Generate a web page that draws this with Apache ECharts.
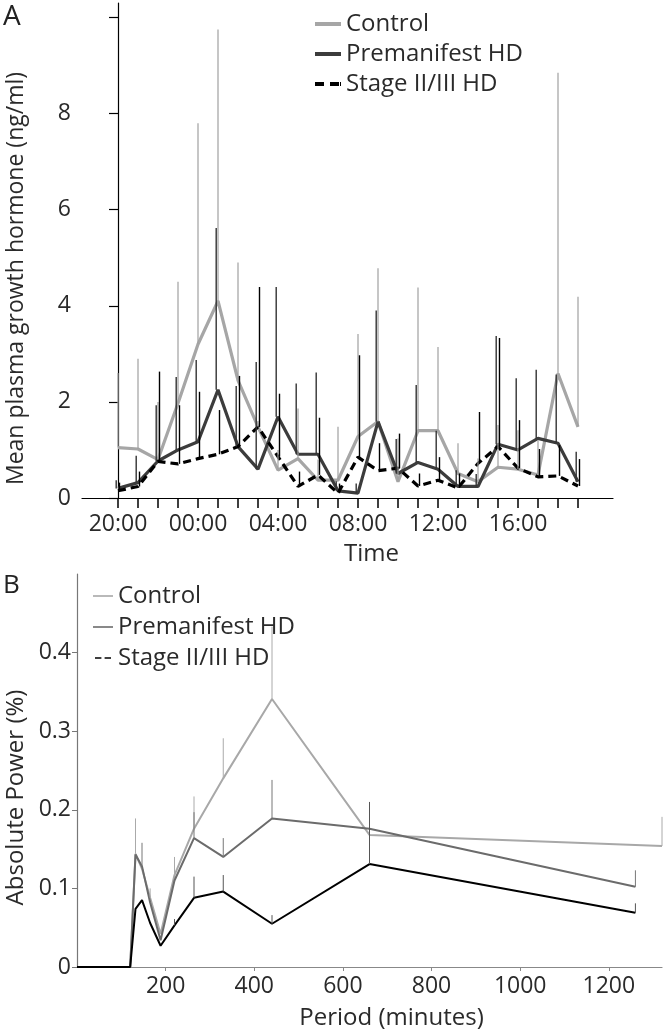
<!DOCTYPE html>
<html><head><meta charset="utf-8">
<script src="https://cdn.jsdelivr.net/npm/echarts@6/dist/echarts.min.js"></script>
<style>html,body{margin:0;padding:0;background:#fff}#c{width:665px;height:1030px}</style>
</head><body><div id="c"></div>
<script>
// ---------- Panel A data (hourly, 20:00 .. 19:00) ----------
const hourLabels = ['20:00','21:00','22:00','23:00','00:00','01:00','02:00','03:00','04:00','05:00','06:00','07:00',
                    '08:00','09:00','10:00','11:00','12:00','13:00','14:00','15:00','16:00','17:00','18:00','19:00'];
const labeledHours = ['20:00','00:00','04:00','08:00','12:00','16:00'];
const controlA    = [1.05,1.02,0.80,1.97,3.20,4.10,2.45,1.48,0.58,0.82,0.37,0.37,1.28,1.59,0.34,1.40,1.40,0.51,0.34,0.64,0.60,0.48,2.59,1.48];
const premanA     = [0.20,0.32,0.77,1.00,1.17,2.25,1.07,0.60,1.69,0.91,0.91,0.15,0.10,1.59,0.51,0.74,0.60,0.24,0.24,1.12,1.00,1.24,1.14,0.34];
const stageA      = [0.15,0.24,0.76,0.71,0.82,0.91,1.07,1.48,0.86,0.24,0.48,0.10,0.85,0.57,0.62,0.25,0.37,0.21,0.72,1.07,0.62,0.44,0.46,0.25];
// upper ends of the error bars (mean + SD)
const controlAUpper = [2.6,2.9,2.0,4.5,7.8,9.75,4.9,1.6,1.0,1.86,0.8,1.48,3.41,4.78,1.24,4.38,3.14,1.14,0.82,1.52,1.41,1.2,8.85,4.19];
const premanAUpper  = [0.37,0.88,1.93,2.52,2.87,5.62,2.33,2.83,4.39,2.38,2.61,0.35,0.3,3.9,1.23,2.35,1.4,0.58,0.5,3.37,2.49,2.67,2.57,0.96];
const stageAUpper   = [0.32,0.55,2.63,1.93,2.21,1.83,2.54,4.39,2.17,0.55,1.67,0.3,2.97,1.14,1.34,0.51,0.85,0.51,1.79,3.33,1.62,1.02,1.1,0.81];
const yTicksA = [0,2,4,6,8,10];
const yLabelsA = [0,2,4,6,8];

// ---------- Panel B data ----------
const periodsControl = [0,120,132,146.7,165,188.6,220,264,330,440,660,1320];
const powerControl   = [0,0,0.144,0.125,0.088,0.042,0.117,0.176,0.24,0.341,0.168,0.154];
const periodsHD      = [0,120,132,146.7,165,188.6,220,264,330,440,660,1260];
const powerPreman    = [0,0,0.143,0.128,0.082,0.034,0.11,0.164,0.14,0.189,0.176,0.102];
const powerStage     = [0,0,0.074,0.085,0.056,0.027,0.053,0.088,0.096,0.055,0.131,0.069];
const errPeriodsControl = [132,165,220,264,330,440,660,1320];
const errUpperControl   = [0.189,0.1,0.14,0.217,0.291,0.433,0.19,0.191];
const errPeriodsPreman  = [146.7,264,330,440,660,1260];
const errUpperPreman    = [0.158,0.197,0.164,0.238,0.2,0.123];
const errPeriodsStage   = [220,264,330,440,660,1260];
const errUpperStage     = [0.061,0.115,0.117,0.066,0.21,0.081];
const xTicksB = [200,400,600,800,1000,1200];
const yTicksB = [0,0.1,0.2,0.3,0.4];

const FONT = 'Open Sans';
const TXT = '#2a2a2a';

function pairs(xs, ys){ return xs.map((x,i)=>[x, ys[i]]); }
function errData(xs, means, uppers){ return xs.map((x,i)=>[x, means[i], uppers[i]]); }
function errSeries(data, color, width, offset, gi){
  return {
    type:'custom', xAxisIndex:gi, yAxisIndex:gi, z:5, silent:true,
    data:data,
    renderItem:function(params, api){
      const p1 = api.coord([api.value(0), api.value(1)]);
      const p2 = api.coord([api.value(0), api.value(2)]);
      return {type:'line', shape:{x1:p1[0]+offset,y1:p1[1],x2:p2[0]+offset,y2:p2[1]},
              style:{stroke:color, lineWidth:width}};
    }
  };
}
const idxA = hourLabels.map((_,i)=>i);
const meanAt = (xs, ys, x) => ys[xs.indexOf(x)];

const chart = echarts.init(document.getElementById('c'), null, {renderer:'canvas'});
chart.setOption({
  animation:false,
  textStyle:{fontFamily:FONT},
  grid:[
    {left:82, right:52, top:3, bottom:532, containLabel:false, outerBoundsMode:'none'},
    {left:77, right:3, top:574, bottom:63, containLabel:false, outerBoundsMode:'none'}
  ],
  xAxis:[
    {gridIndex:0, type:'value', min:-1.8, max:24.75,
     axisLine:{lineStyle:{color:'#000', width:1.2}},
     axisTick:{show:true, customValues:idxA, length:10, lineStyle:{color:'#000', width:1.5}},
     axisLabel:{customValues:labeledHours.map(l=>hourLabels.indexOf(l)), formatter:v=>hourLabels[Math.round(v)],
                fontSize:23, color:TXT, margin:15, fontFamily:FONT},
     splitLine:{show:false},
     name:'Time', nameLocation:'middle', nameGap:44,
     nameTextStyle:{fontSize:24, color:TXT, padding:[0,0,0,48], fontFamily:FONT}},
    {gridIndex:1, type:'value', min:0, max:1320,
     axisLine:{lineStyle:{color:'#888', width:1.2}},
     axisTick:{show:true, customValues:xTicksB, length:4, lineStyle:{color:'#888'}},
     axisLabel:{customValues:xTicksB, formatter:v=>String(v), fontSize:23, color:TXT, margin:8, fontFamily:FONT},
     splitLine:{show:false},
     name:'Period (minutes)', nameLocation:'middle', nameGap:39,
     nameTextStyle:{fontSize:24, color:TXT, padding:[0,0,0,44], fontFamily:FONT}}
  ],
  yAxis:[
    {gridIndex:0, type:'value', min:0, max:10.3,
     axisLine:{show:true, lineStyle:{color:'#000', width:1.2}},
     axisTick:{show:true, customValues:yTicksA, length:9, lineStyle:{color:'#000', width:1.2}},
     axisLabel:{customValues:yLabelsA, fontSize:23, color:TXT, margin:11, fontFamily:FONT},
     splitLine:{show:false},
     name:'Mean plasma growth hormone (ng/ml)', nameLocation:'middle', nameGap:54, nameRotate:90,
     nameTextStyle:{fontSize:23, color:TXT, padding:[0,56,0,0], fontFamily:FONT}},
    {gridIndex:1, type:'value', min:0, max:0.5,
     axisLine:{show:true, lineStyle:{color:'#777', width:1.2}},
     axisTick:{show:true, customValues:yTicksB, length:5, lineStyle:{color:'#777'}},
     axisLabel:{customValues:yTicksB, fontSize:23, color:TXT, margin:6, fontFamily:FONT},
     splitLine:{show:false},
     name:'Absolute Power (%)', nameLocation:'middle', nameGap:48, nameRotate:90,
     nameTextStyle:{fontSize:24, color:TXT, padding:[0,54,0,0], fontFamily:FONT}}
  ],
  legend:[
    {left:310, top:7, orient:'vertical', itemWidth:26, itemHeight:4, itemGap:6,
     textStyle:{fontSize:24, color:TXT, lineHeight:24, fontFamily:FONT},
     data:[
       {name:'Control', icon:'rect', itemStyle:{color:'#a6a6a6'}},
       {name:'Premanifest HD', icon:'rect', itemStyle:{color:'#3c3c3c'}},
       {name:'Stage II/III HD', icon:'path://M0,0H9V4H0ZM15,0H24V4H15ZM25,0H26V4H25Z', itemStyle:{color:'#000'}}
     ]},
    {left:88, top:579, orient:'vertical', itemWidth:20, itemHeight:1.6, itemGap:7,
     textStyle:{fontSize:24, color:TXT, lineHeight:24, fontFamily:FONT},
     data:[
       {name:'Control', icon:'rect', itemStyle:{color:'#a8a8a8'}},
       {name:'Premanifest HD', icon:'rect', itemStyle:{color:'#6b6b6b'}},
       {name:'Stage II/III HD', icon:'path://M0,0H8V2H0ZM12,0H20V2H12Z', itemStyle:{color:'#000'}}
     ]}
  ],
  graphic:[
    {type:'text', left:3, top:3, style:{text:'A', font:'28px "Open Sans"', fill:'#222'}},
    {type:'text', left:3, top:573, style:{text:'B', font:'26px "Open Sans"', fill:'#222'}}
  ],
  series:[
    {name:'Control', type:'line', xAxisIndex:0, yAxisIndex:0, symbol:'none', z:3,
     data:pairs(idxA, controlA), lineStyle:{color:'#a6a6a6', width:3.2}, itemStyle:{color:'#a6a6a6'}},
    {name:'Premanifest HD', type:'line', xAxisIndex:0, yAxisIndex:0, symbol:'none', z:3,
     data:pairs(idxA, premanA), lineStyle:{color:'#3c3c3c', width:3.2}, itemStyle:{color:'#3c3c3c'}},
    {name:'Stage II/III HD', type:'line', xAxisIndex:0, yAxisIndex:0, symbol:'none', z:3,
     data:pairs(idxA, stageA), lineStyle:{color:'#000', width:3.2, type:[8,5]}, itemStyle:{color:'#000'}},
    errSeries(errData(idxA, controlA, controlAUpper), '#a0a0a0', 1.2, 0, 0),
    errSeries(errData(idxA, premanA, premanAUpper), '#333', 1.4, -1.8, 0),
    errSeries(errData(idxA, stageA, stageAUpper), '#000', 1.4, 1.5, 0),

    {name:'Control', type:'line', xAxisIndex:1, yAxisIndex:1, symbol:'none', z:3,
     data:pairs(periodsControl, powerControl), lineStyle:{color:'#a8a8a8', width:2}},
    {name:'Premanifest HD', type:'line', xAxisIndex:1, yAxisIndex:1, symbol:'none', z:3,
     data:pairs(periodsHD, powerPreman), lineStyle:{color:'#6b6b6b', width:2}},
    {name:'Stage II/III HD', type:'line', xAxisIndex:1, yAxisIndex:1, symbol:'none', z:4,
     data:pairs(periodsHD, powerStage), lineStyle:{color:'#000', width:2}},
    errSeries(errData(errPeriodsControl, errPeriodsControl.map(p=>meanAt(periodsControl, powerControl, p)), errUpperControl), '#aaa', 1, 0, 1),
    errSeries(errData(errPeriodsPreman, errPeriodsPreman.map(p=>meanAt(periodsHD, powerPreman, p)), errUpperPreman), '#777', 1, 0, 1),
    errSeries(errData(errPeriodsStage, errPeriodsStage.map(p=>meanAt(periodsHD, powerStage, p)), errUpperStage), '#555', 1, 0, 1)
  ]
});
</script></body></html>
